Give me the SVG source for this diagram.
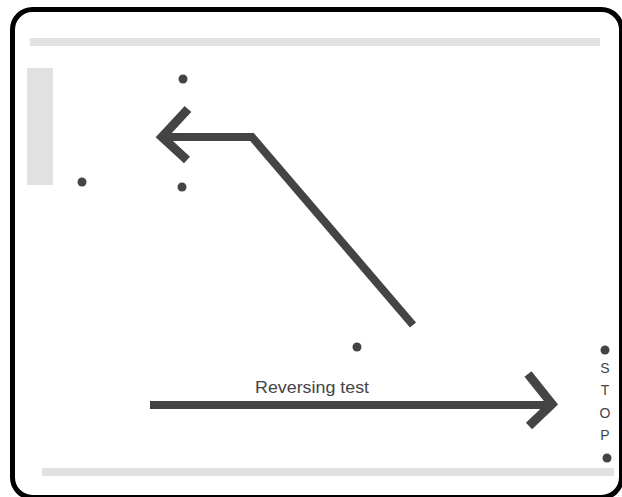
<svg xmlns="http://www.w3.org/2000/svg" width="622" height="497" viewBox="0 0 622 497">
<style>
.bar{fill:#e2e2e2}
.dot{fill:#444}
.conn{fill:none;stroke:#444;stroke-width:8;stroke-linejoin:miter;stroke-linecap:butt}
.head{fill:none;stroke:#444;stroke-width:9;stroke-linejoin:miter;stroke-linecap:butt}
.lbl{font-family:"Liberation Sans",Arial,sans-serif;fill:#444}
</style>
<rect x="0" y="0" width="622" height="497" fill="#fff"/>
<g id="frame">
<rect x="12.5" y="9.5" width="609" height="488" rx="20" ry="20" fill="#fff" stroke="#000" stroke-width="5"/>
</g>
<g id="bars">
<rect class="bar" x="30" y="38" width="570" height="8"/>
<rect class="bar" x="42" y="468" width="572" height="8"/>
<rect class="bar" x="27" y="68" width="26" height="117"/>
</g>
<g id="dots">
<circle class="dot" cx="183" cy="79" r="4.5"/>
<circle class="dot" cx="82" cy="182" r="4.5"/>
<circle class="dot" cx="182" cy="187" r="4.5"/>
<circle class="dot" cx="357" cy="347" r="4.5"/>
</g>
<g id="stop">
<circle class="dot" cx="605" cy="350" r="4.5"/>
<circle class="dot" cx="607" cy="458" r="4.5"/>
<text class="lbl" font-size="14" text-anchor="middle" x="605" y="373">S</text>
<text class="lbl" font-size="14" text-anchor="middle" x="605" y="395">T</text>
<text class="lbl" font-size="14" text-anchor="middle" x="605" y="418">O</text>
<text class="lbl" font-size="14" text-anchor="middle" x="605" y="440">P</text>
</g>
<g id="connectors">
<path class="conn" d="M413,325 L252,137 L163,137"/>
<path class="head" d="M188,109 L162,137 L187,160"/>
<path class="conn" d="M150,405 L550,405"/>
<path class="head" d="M528,374 L552,404 L529,426"/>
</g>
<g id="label">
<text class="lbl" font-size="16" x="312" y="393" text-anchor="middle" textLength="114" lengthAdjust="spacingAndGlyphs">Reversing test</text>
</g>
</svg>
